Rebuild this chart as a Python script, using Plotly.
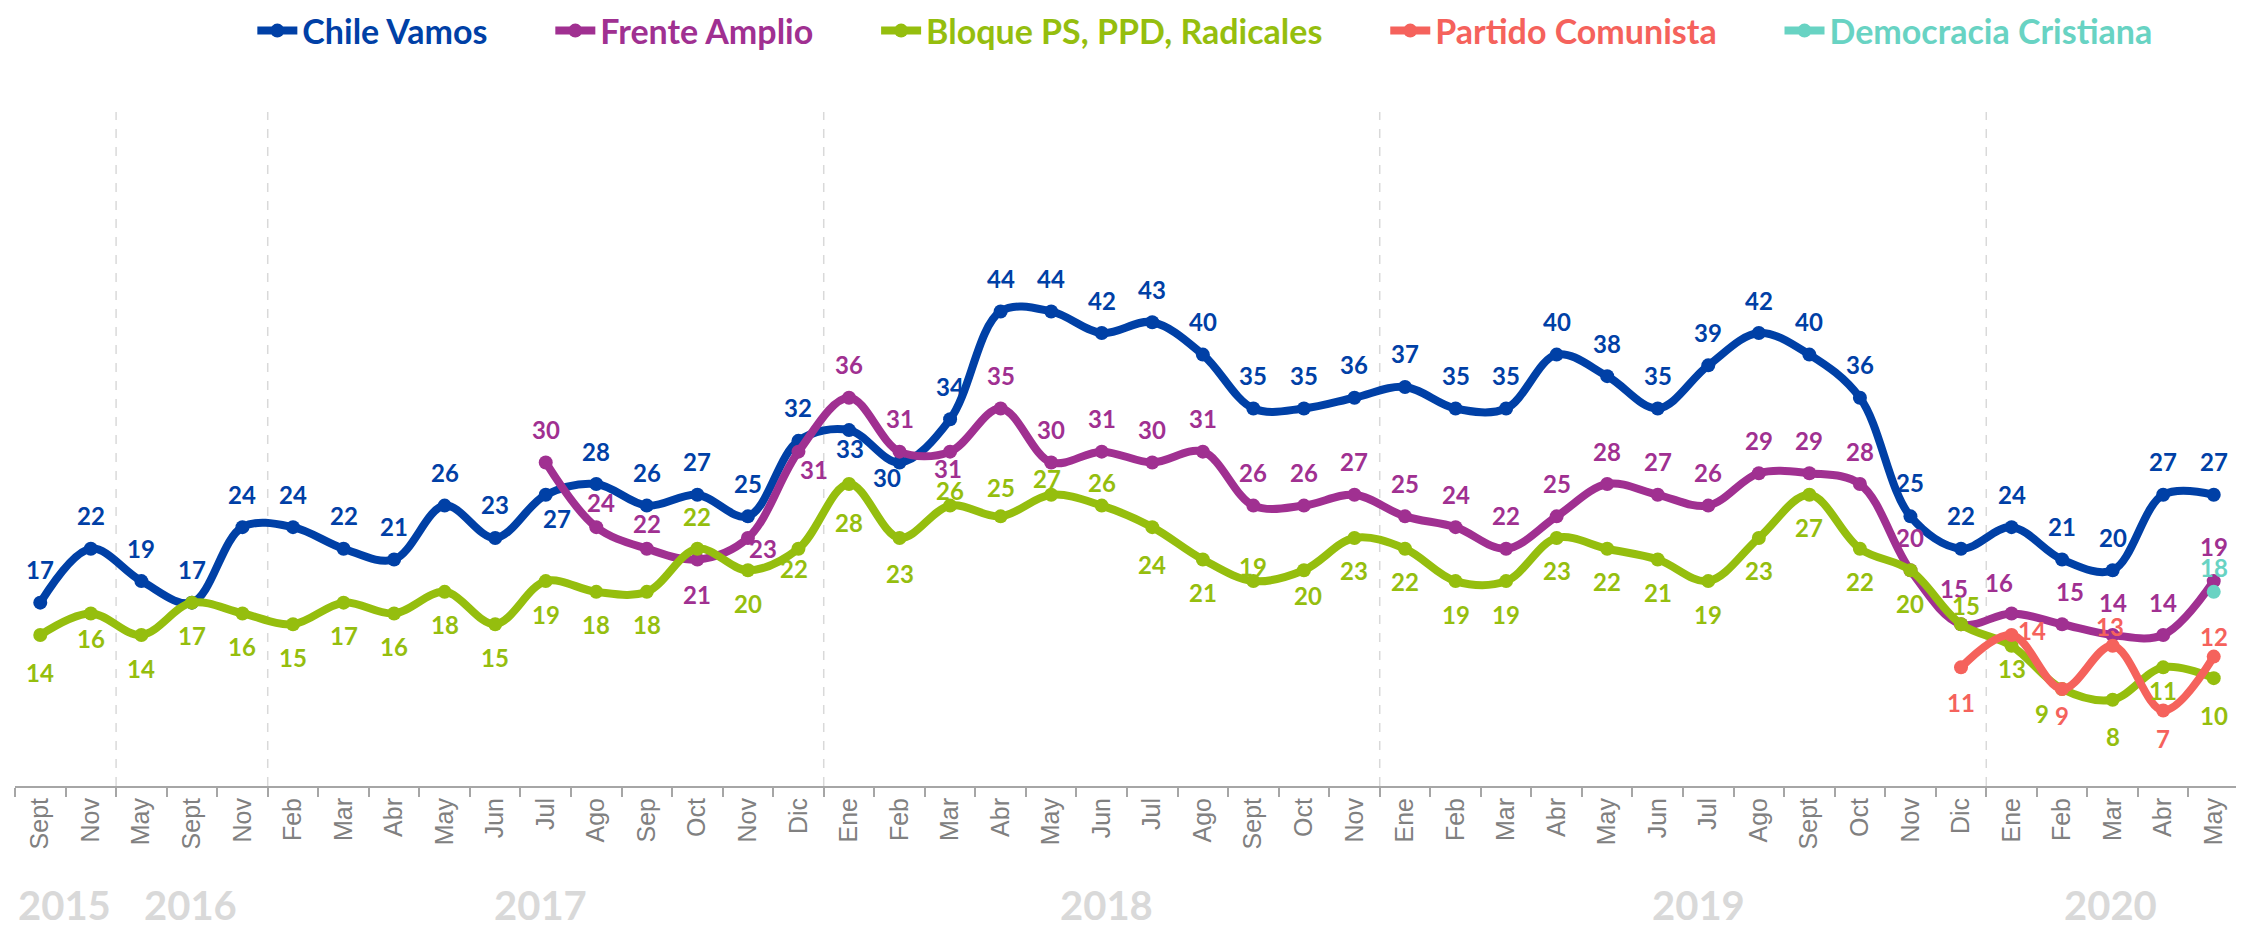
import plotly.graph_objects as go

months = ["Sept", "Nov", "May", "Sept", "Nov", "Feb", "Mar", "Abr", "May", "Jun", "Jul", "Ago", "Sep", "Oct",
          "Nov", "Dic", "Ene", "Feb", "Mar", "Abr", "May", "Jun", "Jul", "Ago", "Sept", "Oct", "Nov", "Ene",
          "Feb", "Mar", "Abr", "May", "Jun", "Jul", "Ago", "Sept", "Oct", "Nov", "Dic", "Ene", "Feb", "Mar",
          "Abr", "May"]
years = ["2015", "2016", "2017", "2018", "2019", "2020"]
year_pos = [0.47, 2.97, 9.9, 21.1, 32.8, 40.96]
year_breaks = [1.5, 4.5, 15.5, 26.5, 38.5]

N = None
chile_vamos = [17, 22, 19, 17, 24, 24, 22, 21, 26, 23, 27, 28, 26, 27, 25, 32, 33, 30, 34, 44, 44, 42,
               43, 40, 35, 35, 36, 37, 35, 35, 40, 38, 35, 39, 42, 40, 36, 25, 22, 24, 21, 20, 27, 27]
frente_amplio = [N, N, N, N, N, N, N, N, N, N, 30, 24, 22, 21, 23, 31, 36, 31, 31, 35, 30, 31,
                 30, 31, 26, 26, 27, 25, 24, 22, 25, 28, 27, 26, 29, 29, 28, 20, 15, 16, 15, 14, 14, 19]
bloque = [14, 16, 14, 17, 16, 15, 17, 16, 18, 15, 19, 18, 18, 22, 20, 22, 28, 23, 26, 25, 27, 26,
          24, 21, 19, 20, 23, 22, 19, 19, 23, 22, 21, 19, 23, 27, 22, 20, 15, 13, 9, 8, 11, 10]
comunista = [N] * 38 + [11, 14, 9, 13, 7, 12]
dc = [N] * 43 + [18]

series = [
    ("Chile Vamos", chile_vamos, "#0040A6"),
    ("Frente Amplio", frente_amplio, "#A03091"),
    ("Bloque PS, PPD, Radicales", bloque, "#95BE0E"),
    ("Partido Comunista", comunista, "#F5625C"),
    ("Democracia Cristiana", dc, "#68D3C3"),
]

# label placement: default vertical shift (px, + = up) and per-point overrides (dx, dy)
label_default = [33, 33, -33, -33, 24]
label_override = [
    {10: (11, -24), 16: (1, -18), 17: (-13, -15), 37: (0, 34)},
    {11: (5, 25), 12: (0, 25), 13: (0, -35), 14: (15, -11), 15: (16, -18), 18: (-2, -17),
     38: (-7, 36), 39: (-13, 31), 40: (8, 33), 43: (0, 35)},
    {0: (0, -37), 1: (0, -25), 13: (0, 32), 15: (-4, -20), 16: (0, -38), 17: (0, -36),
     18: (0, 15), 19: (0, 29), 20: (-4, 16), 21: (0, 23), 22: (0, -37), 24: (0, 15), 25: (4, -25),
     38: (5, 19), 39: (0, -23), 40: (-20, -25), 41: (0, -37), 42: (0, -23), 43: (0, -37)},
    {38: (0, -35), 39: (20, 5), 40: (0, -27), 41: (-3, 19), 42: (0, -28), 43: (0, 20)},
    {},
]

x = list(range(len(months)))
fig = go.Figure()
annotations = []
pad = "&nbsp;" * 7
for k, (name, vals, color) in enumerate(series):
    fig.add_trace(go.Scatter(
        x=x, y=vals, mode="lines+markers",
        name=f"<span style='color:{color}'>{name}</span>" + (pad if k < len(series) - 1 else ""),
        line=dict(color=color, width=8, shape="spline", smoothing=1.0),
        marker=dict(color=color, size=14),
        connectgaps=False, hoverinfo="skip",
    ))
    for i, v in enumerate(vals):
        if v is None:
            continue
        dx, dy = label_override[k].get(i, (0, label_default[k]))
        annotations.append(dict(
            x=i, y=v, xref="x", yref="y", text=str(v), showarrow=False,
            xshift=dx, yshift=dy,
            font=dict(family="Lato", size=24, color=color, weight="bold"),
        ))

for yr, xp in zip(years, year_pos):
    annotations.append(dict(
        x=xp, y=-0.165, xref="x", yref="paper", text=yr, showarrow=False,
        yanchor="middle",
        font=dict(family="Liberation Sans Narrow, Lato", size=40, color="#D9D9D9", weight="bold"),
    ))

shapes = [dict(type="line", x0=b, x1=b, y0=0, y1=62.5, xref="x", yref="y",
               line=dict(color="#D9D9D9", width=1.5, dash="dash"), layer="below")
          for b in year_breaks]

fig.update_layout(
    width=2236, height=920,
    margin=dict(l=7, r=5, t=52, b=142),
    plot_bgcolor="white", paper_bgcolor="white",
    showlegend=True,
    legend=dict(orientation="h", xref="paper", x=0.535, xanchor="center",
                yref="container", y=1 - 23 / 920, yanchor="middle",
                bgcolor="rgba(0,0,0,0)",
                font=dict(family="Lato", size=34, weight="bold"),
                itemwidth=40, tracegroupgap=0),
    annotations=annotations,
    shapes=shapes,
    xaxis=dict(
        range=[-0.5, len(months) - 0.5],
        tickmode="array", tickvals=x, ticktext=months, tickangle=-90,
        tickfont=dict(family="Liberation Sans, Arial", size=25, color="#808080"),
        ticks="", showgrid=False, zeroline=False,
        showline=True, linecolor="#A6A6A6", linewidth=2,
        minor=dict(tickvals=[i - 0.5 for i in range(len(months) + 1)], ticks="outside",
                   ticklen=9, tickcolor="#A6A6A6", tickwidth=2, showgrid=False),
    ),
    yaxis=dict(range=[0, 66.85], visible=False, showgrid=False, zeroline=False),
)

fig.write_html("out.html")
